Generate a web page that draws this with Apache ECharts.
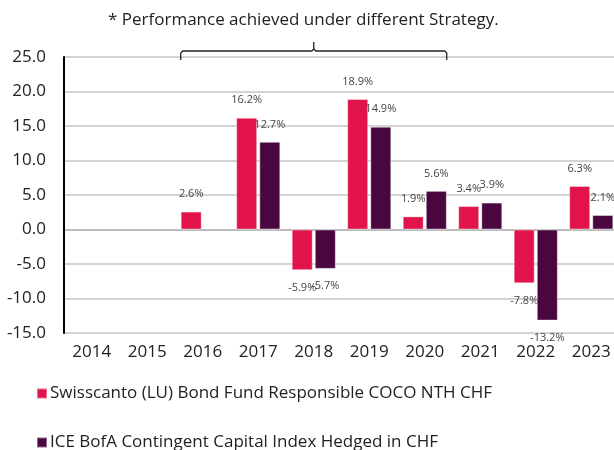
<!DOCTYPE html>
<html>
<head>
<meta charset="utf-8">
<script src="https://cdn.jsdelivr.net/npm/echarts@6/dist/echarts.min.js"></script>
<style>
  html, body { margin: 0; padding: 0; background: #fff; }
  #chart { width: 614px; height: 450px; }
</style>
</head>
<body>
<div id="chart"></div>
<script>
var myChart = echarts.init(document.getElementById('chart'));

// 数据
var years = ['2014', '2015', '2016', '2017', '2018', '2019', '2020', '2021', '2022', '2023'];
var fundName = 'Swisscanto (LU) Bond Fund Responsible COCO NTH CHF';
var indexName = 'ICE BofA Contingent Capital Index Hedged in CHF';
var fundValues = [null, null, 2.6, 16.2, -5.9, 18.9, 1.9, 3.4, -7.8, 6.3];
var indexValues = [null, null, null, 12.7, -5.7, 14.9, 5.6, 3.9, -13.2, 2.1];
var note = '* Performance achieved under different Strategy.';

var fontName = 'Open Sans';

// 正数标签在上面，负数在下面
function toItems(arr) {
    return arr.map(function (v) {
        if (v == null) return null;
        return { value: v, label: { position: v < 0 ? 'bottom' : 'top' } };
    });
}

var barLabel = {
    show: true,
    distance: 12,
    color: '#444',
    fontSize: 11,
    fontFamily: fontName,
    formatter: function (p) { return p.value.toFixed(1) + '%'; }
};

var legendText = { fontSize: 17, color: '#222', fontFamily: fontName, padding: [0, 0, 0, -2] };

option = {
    animation: false,
    textStyle: { fontFamily: fontName },
    title: {
        text: note,
        left: 103,
        top: 7,
        textStyle: { fontSize: 17, fontWeight: 'normal', color: '#222', fontFamily: fontName }
    },
    // 两个图例分两行
    legend: [
        {
            left: 31, top: 380,
            itemWidth: 10, itemHeight: 10, icon: 'rect',
            textStyle: legendText,
            data: [fundName]
        },
        {
            left: 31, top: 429,
            itemWidth: 10, itemHeight: 10, icon: 'rect',
            textStyle: legendText,
            data: [indexName]
        }
    ],
    grid: {
        left: 64,
        right: -5,
        top: 57,
        bottom: 117,
        outerBoundsMode: 'none'
    },
    xAxis: {
        type: 'category',
        data: years,
        axisTick: { show: false },
        axisLine: { show: false },
        axisLabel: { color: '#222', fontSize: 17, margin: 11, fontFamily: fontName }
    },
    yAxis: {
        type: 'value',
        min: -15,
        max: 25,
        interval: 5,
        axisLine: { show: true, lineStyle: { color: '#000', width: 2 } },
        axisTick: { show: false },
        axisLabel: {
            color: '#222', fontSize: 17, margin: 18, fontFamily: fontName,
            formatter: function (v) { return v.toFixed(1); }
        },
        splitLine: {
            lineStyle: {
                // 0 这条线颜色深一点
                color: ['#c4c4c4', '#c4c4c4', '#c4c4c4', '#a6a6a6', '#c4c4c4', '#c4c4c4', '#c4c4c4', '#c4c4c4', '#c4c4c4'],
                width: 1.5
            }
        }
    },
    series: [
        {
            name: fundName,
            type: 'bar',
            barWidth: 21,
            barGap: '10%',
            data: toItems(fundValues),
            label: barLabel,
            itemStyle: { color: '#E2124A', borderColor: 'rgba(255,255,255,0.4)', borderWidth: 1 }
        },
        {
            name: indexName,
            type: 'bar',
            barWidth: 21,
            data: toItems(indexValues),
            label: barLabel,
            itemStyle: { color: '#4A063F', borderColor: 'rgba(255,255,255,0.4)', borderWidth: 1 }
        }
    ]
};

myChart.setOption(option);

// 上方的大括号：从2016到2020
var x1 = myChart.convertToPixel({ xAxisIndex: 0 }, '2016') - 22;
var x2 = myChart.convertToPixel({ xAxisIndex: 0 }, '2020') + 22;
var yTop = myChart.convertToPixel({ yAxisIndex: 0 }, 25);
var xm = (x1 + x2) / 2;
var yb = yTop - 6;
myChart.setOption({
    graphic: [
        {
            type: 'polyline',
            shape: { points: [[x1, yTop + 3], [x1, yb + 2], [x1 + 2, yb], [xm - 2, yb], [xm, yb - 2], [xm, yb - 9]] },
            style: { stroke: '#222', lineWidth: 1.3, fill: null }
        },
        {
            type: 'polyline',
            shape: { points: [[x2, yTop + 3], [x2, yb + 2], [x2 - 2, yb], [xm + 2, yb], [xm, yb - 2]] },
            style: { stroke: '#222', lineWidth: 1.3, fill: null }
        }
    ]
});
</script>
</body>
</html>
